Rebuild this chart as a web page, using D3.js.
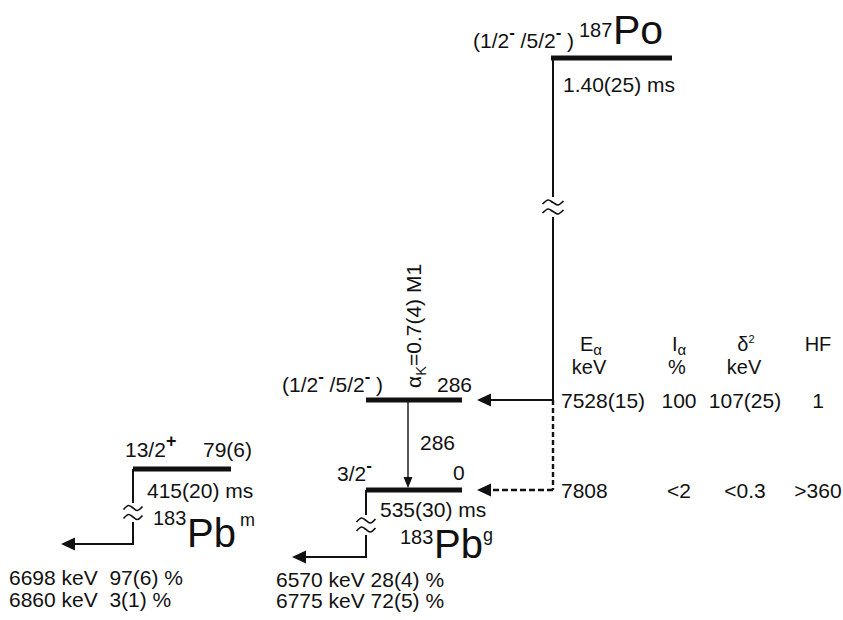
<!DOCTYPE html>
<html>
<head>
<meta charset="utf-8">
<script src="https://cdn.jsdelivr.net/npm/d3@7"></script>
<style>
  html, body { margin: 0; padding: 0; background: #fff; }
  svg text { font-family: "Liberation Sans", Arial, Helvetica, sans-serif; fill: #111; }
</style>
</head>
<body>
<div id="chart"></div>
<script>
// ── Data ───────────────────────────────────────────────────────────────────
// Level energies (keV, relative to the 183Pb ground state). The parent level
// sits at the alpha Q-value, drawn on a broken axis.
const qAlpha = 7808 * 187 / 183;
const levelKeys     = ['po', 'pb286', 'pbg', 'pbm'];
const levelEnergies = [qAlpha, 286, 0, 79];
const levelSpins    = [
  ['(1/2', '-', ' /5/2', '-', ' )'],
  ['(1/2', '-', ' /5/2', '-', ' )'],
  ['3/2', '-'],
  ['13/2', '+']
];
const levelEnergyLabels = ['', '286', '0', '79(6)'];
const halfLives         = ['1.40(25) ms', '', '535(30) ms', '415(20) ms'];

const nuclideMass  = ['187', '183', '183'];
const nuclideName  = ['Po', 'Pb', 'Pb'];
const nuclideState = ['', 'g', 'm'];

const gammaEnergy = 286;
const gammaLabel  = ['α', 'K', '=0.7(4) M1'];

const tableHeaders = [['E', 'α'], ['I', 'α'], ['δ', '2'], ['HF', '']];
const tableUnits   = ['keV', '%', 'keV', ''];
const alphaRows    = [
  { to: 286, cells: ['7528(15)', '100', '107(25)', '1'] },
  { to: 0,   cells: ['7808', '<2', '<0.3', '>360'] }
];

const pbgAlphaLines = ['6570 keV 28(4) %', '6775 keV 72(5) %'];
const pbmAlphaLines = ['6698 keV  97(6) %', '6860 keV  3(1) %'];

// ── Scales / layout ────────────────────────────────────────────────────────
const W = 843, H = 620;
const FS = 21;

// Not-to-scale level scheme: piecewise energy → y.
const yE = d3.scaleLinear()
  .domain([0, 79, 286, qAlpha])
  .range([490, 469, 400, 58]);

// Horizontal extent of each level line.
const levelX = {
  po:    [551, 672],
  pb286: [366, 462],
  pbg:   [366, 462],
  pbm:   [133, 231]
};

const tableCol = d3.scaleOrdinal().domain([0, 1, 2, 3]).range([591, 679, 746, 818]);

const svg = d3.select('#chart').append('svg')
  .attr('width', W).attr('height', H);

const levels = levelKeys.map((k, i) => ({
  key: k, E: levelEnergies[i], spin: levelSpins[i],
  eLabel: levelEnergyLabels[i], t: halfLives[i],
  x0: levelX[k][0], x1: levelX[k][1], y: yE(levelEnergies[i])
}));
const L = Object.fromEntries(levels.map(d => [d.key, d]));

// Text with raised / lowered parts. parts: [text, kind] where kind is
// '' | 'sup' | 'sub'. Parity signs are set bold so they read like the figure.
function richText(g, x, y, parts, size, anchor, opt) {
  opt = Object.assign({ sup: 0.47, sub: 0.25, scale: 0.7 }, opt || {});
  const t = g.append('text').attr('x', x).attr('y', y)
    .attr('font-size', size).attr('text-anchor', anchor || 'start')
    .style('white-space', 'pre');
  let shift = 0;
  parts.forEach(([s, kind]) => {
    const target = kind === 'sup' ? -size * opt.sup : kind === 'sub' ? size * opt.sub : 0;
    t.append('tspan')
      .attr('dy', target - shift)
      .attr('font-size', kind ? size * opt.scale : size)
      .attr('font-weight', kind === 'sup' && /[-+]/.test(s) ? 'bold' : null)
      .text(s);
    shift = target;
  });
  return t;
}

function arrowHead(g, tipX, tipY, dir, len, half) {
  // dir: 'left' | 'down'
  const pts = dir === 'left'
    ? [[tipX, tipY], [tipX + len, tipY - half], [tipX + len, tipY + half]]
    : [[tipX, tipY], [tipX - half, tipY - len], [tipX + half, tipY - len]];
  g.append('path').attr('d', d3.line()(pts) + 'Z').attr('fill', '#111');
}

// Two tilde strokes across a broken vertical line.
const tilde = d3.line().curve(d3.curveCatmullRom);
function breakMark(g, x, yMid, w) {
  [-4.5, 4.5].forEach(off => {
    const y = yMid + off, x0 = x - w / 2;
    g.append('path')
      .attr('d', tilde([[x0, y + 1.5], [x0 + w * 0.27, y - 2.5], [x0 + w * 0.5, y], [x0 + w * 0.73, y + 2.5], [x0 + w, y - 1.5]]))
      .attr('fill', 'none').attr('stroke', '#111').attr('stroke-width', 1.7);
  });
}

const g = svg.append('g');

// ── Level lines ────────────────────────────────────────────────────────────
g.selectAll('.level').data(levels).enter().append('line')
  .attr('class', 'level')
  .attr('x1', d => d.x0).attr('x2', d => d.x1)
  .attr('y1', d => d.y).attr('y2', d => d.y)
  .attr('stroke', '#111').attr('stroke-width', 5);

// ── Parent 187Po ───────────────────────────────────────────────────────────
const poX = L.po.x0 + 2;
const gapPo = [197, 217];
g.append('line').attr('x1', poX).attr('x2', poX)
  .attr('y1', L.po.y).attr('y2', gapPo[0]).attr('stroke', '#111').attr('stroke-width', 2);
g.append('line').attr('x1', poX).attr('x2', poX)
  .attr('y1', gapPo[1]).attr('y2', L.pb286.y).attr('stroke', '#111').attr('stroke-width', 2);
breakMark(g, poX, (gapPo[0] + gapPo[1]) / 2, 21);

// Dashed continuation to the weak ground-state branch
g.append('line').attr('x1', poX).attr('x2', poX)
  .attr('y1', L.pb286.y).attr('y2', L.pbg.y)
  .attr('stroke', '#111').attr('stroke-width', 2.4).attr('stroke-dasharray', '5,3');

// Alpha branches into 183Pb
alphaRows.forEach((r, i) => {
  const y = yE(r.to);
  const tip = L.pb286.x1 + 15;
  g.append('line').attr('x1', poX).attr('x2', tip + 12)
    .attr('y1', y).attr('y2', y)
    .attr('stroke', '#111').attr('stroke-width', i === 0 ? 2 : 2.4)
    .attr('stroke-dasharray', i === 0 ? null : '6,3');
  arrowHead(g, tip, y, 'left', 14, 6.5);
});

richText(g, 473, 48, L.po.spin.map((s, i) => [s, i % 2 ? 'sup' : '']), FS, 'start', { scale: 0.8 });
richText(g, 579, 37, [[nuclideMass[0], '']], 20);
g.append('text').attr('x', 613).attr('y', 44).attr('font-size', 41).text(nuclideName[0]);
g.append('text').attr('x', 563).attr('y', 92).attr('font-size', FS).text(L.po.t);

// ── 183Pb 286 keV level + gamma ────────────────────────────────────────────
richText(g, 282, 392, L.pb286.spin.map((s, i) => [s, i % 2 ? 'sup' : '']), FS, 'start', { scale: 0.8 });
g.append('text').attr('x', 437).attr('y', 392).attr('font-size', FS).text(L.pb286.eLabel);

const gx = 408;
g.append('line').attr('x1', gx).attr('x2', gx)
  .attr('y1', yE(gammaEnergy) + 2).attr('y2', yE(0) - 10)
  .attr('stroke', '#111').attr('stroke-width', 1.4);
arrowHead(g, gx, yE(0) - 2, 'down', 11, 4.5);
g.append('text').attr('x', 420).attr('y', 450).attr('font-size', FS).text(String(gammaEnergy));

const gl = g.append('g').attr('transform', 'translate(421,388) rotate(-90)');
richText(gl, 0, 0, [[gammaLabel[0], ''], [gammaLabel[1], 'sub'], [gammaLabel[2], '']], FS);

// ── 183Pb ground state ─────────────────────────────────────────────────────
richText(g, 337, 481, [[L.pbg.spin[0], ''], [L.pbg.spin[1], 'sup']], FS, 'start', { scale: 0.8 });
g.append('text').attr('x', 453).attr('y', 480).attr('font-size', FS).text(L.pbg.eLabel);
g.append('text').attr('x', 380).attr('y', 517).attr('font-size', FS).text(L.pbg.t);
g.append('text').attr('x', 400).attr('y', 544).attr('font-size', 20).text(nuclideMass[1]);
g.append('text').attr('x', 434).attr('y', 558).attr('font-size', 40).text(nuclideName[1]);
g.append('text').attr('x', 483).attr('y', 541).attr('font-size', 18).text(nuclideState[1]);

const gsX = L.pbg.x0, gsGap = [515, 535], gsArr = 557;
g.append('line').attr('x1', gsX).attr('x2', gsX).attr('y1', L.pbg.y).attr('y2', gsGap[0])
  .attr('stroke', '#111').attr('stroke-width', 2);
g.append('line').attr('x1', gsX).attr('x2', gsX).attr('y1', gsGap[1]).attr('y2', gsArr + 1)
  .attr('stroke', '#111').attr('stroke-width', 2);
breakMark(g, gsX, (gsGap[0] + gsGap[1]) / 2, 19);
g.append('line').attr('x1', gsX + 1).attr('x2', 305).attr('y1', gsArr).attr('y2', gsArr)
  .attr('stroke', '#111').attr('stroke-width', 2);
arrowHead(g, 292, gsArr, 'left', 14, 6.5);

g.selectAll('.pbgA').data(pbgAlphaLines).enter().append('text')
  .attr('x', 276).attr('y', (d, i) => 587 + i * 21)
  .attr('font-size', FS).style('white-space', 'pre').text(d => d);

// ── 183Pb isomer ───────────────────────────────────────────────────────────
richText(g, 125, 457, [[L.pbm.spin[0], ''], [L.pbm.spin[1], 'sup']], FS, 'start', { scale: 0.85 });
g.append('text').attr('x', 203).attr('y', 457).attr('font-size', FS).text(L.pbm.eLabel);
g.append('text').attr('x', 147).attr('y', 498).attr('font-size', FS).text(L.pbm.t);
g.append('text').attr('x', 153).attr('y', 525).attr('font-size', 20).text(nuclideMass[2]);
g.append('text').attr('x', 187).attr('y', 547).attr('font-size', 40).text(nuclideName[2]);
g.append('text').attr('x', 240).attr('y', 526).attr('font-size', 18).text(nuclideState[2]);

const mX = L.pbm.x0, mGap = [503, 522], mArr = 544;
g.append('line').attr('x1', mX).attr('x2', mX).attr('y1', L.pbm.y).attr('y2', mGap[0])
  .attr('stroke', '#111').attr('stroke-width', 2);
g.append('line').attr('x1', mX).attr('x2', mX).attr('y1', mGap[1]).attr('y2', mArr + 1)
  .attr('stroke', '#111').attr('stroke-width', 2);
breakMark(g, mX, (mGap[0] + mGap[1]) / 2, 19);
g.append('line').attr('x1', mX + 1).attr('x2', 74).attr('y1', mArr).attr('y2', mArr)
  .attr('stroke', '#111').attr('stroke-width', 2);
arrowHead(g, 61, mArr, 'left', 14, 6.5);

g.selectAll('.pbmA').data(pbmAlphaLines).enter().append('text')
  .attr('x', 9).attr('y', (d, i) => 585 + i * 22)
  .attr('font-size', FS).style('white-space', 'pre').text(d => d);

// ── Alpha-decay table ──────────────────────────────────────────────────────
tableHeaders.forEach(([main, extra], i) => {
  const kind = i < 2 ? 'sub' : 'sup';
  const parts = [[main, '']];
  if (extra) parts.push([extra, kind]);
  const t = richText(g, tableCol(i), 351, parts, 20, 'middle', { sub: 0.18, sup: 0.4, scale: 0.75 });
  if (i === 2) t.select('tspan:last-child').attr('font-size', 11);
});
tableUnits.forEach((u, i) => {
  if (u) g.append('text').attr('x', tableCol(i) - 2).attr('y', 374)
    .attr('font-size', 20).attr('text-anchor', 'middle').text(u);
});
alphaRows.forEach(r => {
  const y = yE(r.to) + 8;
  r.cells.forEach((c, i) => {
    g.append('text')
      .attr('x', i === 0 ? 561 : tableCol(i) - (i === 2 ? 1 : 0))
      .attr('y', y)
      .attr('font-size', FS)
      .attr('text-anchor', i === 0 ? 'start' : 'middle')
      .text(c);
  });
});
</script>
</body>
</html>
